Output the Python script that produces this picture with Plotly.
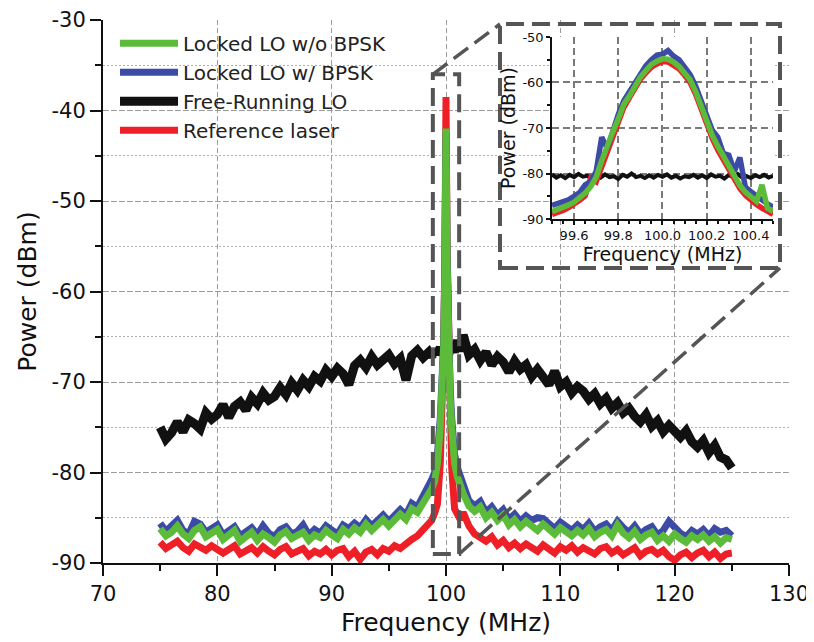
import plotly.graph_objects as go

FONT = "DejaVu Sans"
C_GREEN = "#5cbc3a"
C_BLUE = "#3b4ba6"
C_BLACK = "#111111"
C_RED = "#ee1f26"
C_FRAME = "#555555"

NAMES = ["Locked LO w/o BPSK", "Locked LO w/ BPSK", "Free-Running LO", "Reference laser"]

# ---------------- main spectrum (frequency in MHz, power in dBm) ----------------
FREQ_LEFT = [round(75.0 + 0.5 * i, 2) for i in range(48)]      # 75.0 ... 98.5
FREQ_PEAK = [98.75, 99.0, 99.25, 99.5, 99.65, 99.8, 99.9, 100.0,
             100.1, 100.2, 100.35, 100.5, 100.75, 101.0, 101.25]
FREQ_RIGHT = [round(101.5 + 0.5 * i, 2) for i in range(48)]    # 101.5 ... 125.0
FREQ_MAIN = FREQ_LEFT + FREQ_PEAK + FREQ_RIGHT

FREE_RUNNING = [
    -75.0, -76.3, -75.6, -74.4, -75.5, -74.2, -74.6, -75.2, -73.4, -74.1,
    -73.6, -72.5, -73.9, -72.7, -72.2, -73.1, -71.7, -72.4, -71.2, -72.0,
    -71.6, -70.6, -71.4, -70.1, -70.9, -69.8, -70.5, -69.4, -69.9, -68.7,
    -69.4, -68.5, -69.1, -70.3, -68.2, -67.6, -68.4, -67.2, -68.1, -67.6,
    -67.0, -68.0, -67.4, -69.8, -67.1, -66.5, -67.3, -66.7,
    -67.2, -66.4, -66.9, -66.2, -67.0, -66.6, -66.0, -66.8, -66.3, -67.1,
    -66.5, -65.8, -66.7, -65.4, -66.6,
    -64.8, -67.0, -66.4, -67.6, -66.7, -68.1, -67.2, -67.8, -68.9, -67.7,
    -68.6, -68.1, -69.4, -68.6, -69.6, -70.3, -68.8, -70.5, -70.0, -71.2,
    -70.5, -71.0, -71.9, -71.3, -72.4, -71.8, -72.9, -72.3, -73.4, -72.9,
    -73.8, -74.4, -73.6, -74.9, -74.3, -75.5, -74.8, -75.6, -76.1, -75.4,
    -76.6, -77.2, -76.5, -77.8, -77.0, -78.3, -78.6, -79.5,
]

REFERENCE = [
    -87.7, -88.4, -88.0, -87.6, -88.3, -88.7, -87.9, -88.2, -88.6, -88.1,
    -88.4, -88.9, -88.5, -88.1, -89.0, -88.6, -88.3, -88.9, -88.2, -88.7,
    -89.1, -88.5, -88.2, -89.0, -88.6, -88.4, -89.2, -88.7, -89.0, -88.5,
    -89.1, -88.6, -88.4, -89.3, -88.7, -89.6, -88.8, -88.5, -89.1, -88.4,
    -88.7, -88.1, -88.4, -87.8, -87.4, -87.0, -86.3, -85.8,
    -85.3, -84.5, -83.5, -79.0, -73.0, -66.0, -56.5, -38.5, -55.5, -64.0,
    -72.0, -79.5, -84.0, -84.8, -85.2,
    -84.4, -85.9, -86.8, -87.2, -87.6, -87.1, -88.0, -87.5, -88.3, -87.8,
    -88.4, -87.9, -88.2, -88.7, -88.0, -88.5, -88.9, -88.2, -88.6, -88.1,
    -88.8, -88.3, -88.7, -89.0, -88.4, -88.2, -88.9, -88.5, -89.1, -88.6,
    -88.3, -89.2, -88.7, -88.5, -89.0, -88.6, -89.3, -89.7, -89.1, -88.8,
    -89.4, -88.9, -88.6, -89.3, -88.8, -89.5, -89.0, -88.9,
]

LOCKED_BPSK = [
    -85.6, -86.5, -85.9, -85.3, -86.4, -86.8, -85.4, -85.7, -86.6, -86.2,
    -85.8, -86.9, -86.4, -86.0, -87.0, -86.5, -86.1, -86.9, -85.9, -86.7,
    -87.1, -86.3, -86.0, -86.8, -86.5, -85.8, -86.9, -86.3, -86.7, -85.9,
    -86.4, -86.8, -85.8, -86.2, -85.6, -86.1, -85.2, -85.9, -85.3, -84.7,
    -85.4, -84.6, -84.1, -84.7, -83.4, -83.8, -82.6, -81.8,
    -80.8, -80.0, -78.0, -74.0, -71.0, -65.5, -57.5, -42.5, -56.5, -64.0,
    -70.5, -74.0, -78.0, -79.5, -80.5,
    -81.6, -83.1, -83.7, -83.2, -84.4, -83.8, -84.7, -84.1, -85.2, -84.6,
    -85.4, -84.8, -85.3, -85.0, -85.1, -85.7, -86.2, -85.5, -86.0, -86.4,
    -85.8, -86.3, -85.6, -86.5, -86.0, -85.7, -86.4, -85.4, -86.1, -86.6,
    -85.9, -86.8, -86.3, -86.0, -86.9, -86.4, -85.4, -86.2, -86.7, -87.1,
    -86.4, -86.8, -86.3, -87.0, -86.2, -86.6, -86.4, -87.0,
]

LOCKED_NO_BPSK = [
    -86.2, -87.0, -86.6, -85.9, -86.8, -87.3, -86.4, -86.0, -87.1, -86.7,
    -86.3, -87.4, -86.9, -86.4, -87.6, -87.0, -86.6, -87.5, -86.8, -87.2,
    -87.7, -86.9, -86.5, -87.3, -87.0, -86.6, -87.5, -86.9, -87.2, -86.4,
    -86.9, -87.3, -86.3, -86.8, -86.1, -86.6, -85.7, -86.4, -85.8, -85.2,
    -85.9, -85.1, -84.6, -85.2, -84.0, -84.4, -83.3, -82.5,
    -81.8, -81.0, -79.0, -75.0, -72.0, -66.0, -58.0, -42.0, -57.0, -64.5,
    -71.5, -75.0, -79.0, -80.5, -81.5,
    -82.3, -83.7, -84.3, -83.8, -85.0, -84.4, -85.3, -84.7, -85.8, -85.2,
    -86.0, -85.4, -85.9, -86.4, -85.7, -86.3, -86.8, -86.1, -86.6, -87.0,
    -86.4, -86.9, -86.2, -87.1, -86.6, -86.3, -87.0, -85.8, -86.7, -87.2,
    -86.5, -87.4, -86.9, -86.6, -87.5, -87.0, -87.6, -86.8, -87.3, -87.7,
    -87.0, -87.4, -86.9, -87.6, -87.1, -87.8, -87.2, -87.4,
]

# ---------------- inset (zoom on the beat note) ----------------
INSET_FREE_RUNNING = [
    -80.2, -80.9, -80.4, -81.0, -80.3, -80.8, -80.1, -80.7, -80.5, -81.1,
    -80.4, -80.9, -80.2, -80.8, -80.6, -81.2, -80.3, -80.7, -80.0, -80.8,
    -80.5, -81.0, -80.4, -80.9, -80.3, -80.7, -80.2, -80.9, -80.5, -81.1,
    -80.6, -80.8, -80.3, -80.9, -80.4, -81.0, -80.2, -80.7, -80.5, -81.1,
    -80.3, -80.8, -80.1, -80.9, -80.6, -81.0, -80.4, -80.8, -80.3, -80.9,
    -80.5,
]
INSET_FREQ_FR = [round(99.5 + 0.02 * i, 3) for i in range(len(INSET_FREE_RUNNING))]

INSET_REFERENCE = [
    -89.0, -88.7, -88.1, -87.5, -86.8, -85.9, -84.9, -81.0, -81.8, -78.4,
    -75.0, -71.5, -68.5, -65.5, -63.4, -61.2, -59.3, -57.9, -56.6, -55.9,
    -55.4, -55.5, -56.1, -57.0, -58.4, -60.0, -62.6, -65.9, -69.2, -72.3,
    -74.8, -77.0, -79.4, -81.4, -83.3, -84.8, -85.9, -86.8, -87.6, -88.3,
    -89.0,
]
INSET_BPSK = [
    -87.0, -86.7, -86.2, -85.8, -85.0, -84.2, -82.5, -81.8, -79.5, -72.0,
    -74.5, -70.2, -67.0, -64.0, -62.0, -59.8, -57.9, -56.3, -55.0, -54.0,
    -53.8, -53.0, -54.2, -55.0, -56.6, -58.3, -60.8, -64.0, -67.5, -70.5,
    -72.0, -75.6, -76.0, -79.5, -76.5, -83.0, -84.0, -85.0, -86.0, -86.7,
    -87.4,
]
INSET_NO_BPSK = [
    -88.4, -88.0, -87.4, -86.9, -86.3, -85.4, -84.3, -82.9, -80.8, -77.2,
    -74.4, -70.9, -68.0, -64.8, -63.0, -60.6, -58.8, -57.4, -56.0, -55.3,
    -54.8, -54.9, -55.5, -56.5, -57.8, -59.4, -62.0, -65.3, -68.6, -71.6,
    -74.0, -76.3, -78.6, -80.7, -82.6, -84.1, -85.2, -86.1, -82.5, -87.6,
    -88.3,
]
INSET_FREQ = [round(99.5 + 0.025 * i, 3) for i in range(len(INSET_NO_BPSK))]

# axis definitions
X_RANGE = [70, 130]
Y_RANGE = [-90, -30]
X_TICKS = [70, 80, 90, 100, 110, 120, 130]
Y_TICKS = [-90, -80, -70, -60, -50, -40, -30]
IX_RANGE = [99.5, 100.5]
IY_RANGE = [-90, -50]
IX_TICKS = [99.6, 99.8, 100.0, 100.2, 100.4]
IY_TICKS = [-90, -80, -70, -60, -50]

# zoom marker (data coords of main plot) and inset frame (paper coords)
ZOOM_BOX = (98.85, 101.15, -89.0, -36.0)
INSET_FRAME = (0.5787, 0.9869, 0.5433, 0.9926)
INSET_DOMAIN_X = [0.6545, 0.9767]
INSET_DOMAIN_Y = [0.6335, 0.9687]


def px(v):
    return (v - X_RANGE[0]) / (X_RANGE[1] - X_RANGE[0])


def py(v):
    return (v - Y_RANGE[0]) / (Y_RANGE[1] - Y_RANGE[0])


fig = go.Figure()

main = [
    (NAMES[2], FREE_RUNNING, C_BLACK, 9, 3),
    (NAMES[3], REFERENCE, C_RED, 7, 4),
    (NAMES[1], LOCKED_BPSK, C_BLUE, 7, 2),
    (NAMES[0], LOCKED_NO_BPSK, C_GREEN, 7, 1),
]
for name, vals, col, w, rank in main:
    fig.add_trace(go.Scatter(x=FREQ_MAIN, y=vals, mode="lines", name=name,
                             line=dict(color=col, width=w), legendrank=rank,
                             xaxis="x", yaxis="y"))

fig.add_trace(go.Scatter(x=INSET_FREQ_FR, y=INSET_FREE_RUNNING, mode="lines",
                         line=dict(color=C_BLACK, width=4), showlegend=False,
                         xaxis="x2", yaxis="y2"))
for vals, col in [(INSET_REFERENCE, C_RED), (INSET_BPSK, C_BLUE), (INSET_NO_BPSK, C_GREEN)]:
    fig.add_trace(go.Scatter(x=INSET_FREQ, y=vals, mode="lines",
                             line=dict(color=col, width=5.5), showlegend=False,
                             xaxis="x2", yaxis="y2"))

tickfont = dict(family=FONT, size=21, color="#111")
grid_major = dict(showgrid=True, gridcolor="#9a9a9a", gridwidth=1, griddash="5px,3px")

# the page body adds an 8px margin, so the figure is 8px smaller than the window
fig.update_layout(
    width=806, height=634,
    margin=dict(l=95, r=25, t=12, b=79, autoexpand=False),
    paper_bgcolor="white", plot_bgcolor="white",
    font=dict(family=FONT, color="#111"),
    xaxis=dict(range=X_RANGE, tickvals=X_TICKS, ticktext=[str(v) for v in X_TICKS],
               automargin=False,
               ticks="outside", ticklen=11, tickwidth=2, tickcolor="#111",
               showline=True, linewidth=2, linecolor="#111", zeroline=False,
               tickfont=tickfont,
               minor=dict(dtick=5, tick0=70, ticks="outside", ticklen=6, tickwidth=2,
                          tickcolor="#111", showgrid=False),
               title=dict(text="Frequency (MHz)", font=dict(family=FONT, size=25, color="#111"),
                          standoff=8),
               **grid_major),
    yaxis=dict(range=Y_RANGE, tickvals=Y_TICKS, ticktext=[str(v) for v in Y_TICKS],
               automargin=False,
               ticks="outside", ticklen=11, tickwidth=2, tickcolor="#111",
               showline=True, linewidth=2, linecolor="#111", zeroline=False,
               tickfont=tickfont,
               minor=dict(dtick=5, tick0=-90, ticks="outside", ticklen=6, tickwidth=2,
                          tickcolor="#111", showgrid=True, gridcolor="#b0b0b0",
                          griddash="2px,2px", gridwidth=1),
               title=dict(text="Power (dBm)", font=dict(family=FONT, size=25, color="#111"),
                          standoff=8),
               **grid_major),
    xaxis3=dict(overlaying="x", side="top", anchor="y", range=X_RANGE, tickvals=X_TICKS,
                automargin=False,
                showticklabels=False, ticks="inside", ticklen=10, tickwidth=2,
                tickcolor="#111", showline=True, linewidth=2, linecolor="#111",
                showgrid=False, zeroline=False,
                minor=dict(dtick=5, tick0=70, ticks="inside", ticklen=5, tickwidth=2,
                           tickcolor="#111")),
    yaxis3=dict(overlaying="y", side="right", anchor="x", range=Y_RANGE, tickvals=Y_TICKS,
                automargin=False,
                showticklabels=False, ticks="inside", ticklen=10, tickwidth=2,
                tickcolor="#111", showline=True, linewidth=2, linecolor="#111",
                showgrid=False, zeroline=False,
                minor=dict(dtick=5, tick0=-90, ticks="inside", ticklen=6, tickwidth=2,
                           tickcolor="#111")),
    xaxis2=dict(domain=INSET_DOMAIN_X, anchor="y2", range=IX_RANGE, tickvals=IX_TICKS,
                ticktext=["%.1f" % v for v in IX_TICKS], automargin=False,
                ticks="outside", ticklen=4, tickwidth=1.5, tickcolor="#111",
                showline=True, linewidth=1.5, linecolor="#111", zeroline=False,
                tickfont=dict(family=FONT, size=13, color="#111"),
                minor=dict(dtick=0.05, tick0=99.5, ticks="outside", ticklen=3,
                           tickwidth=1.5, tickcolor="#111"),
                showgrid=True, gridcolor="#7a7a7a", gridwidth=2, griddash="7px,4px",
                title=dict(text="Frequency (MHz)", font=dict(family=FONT, size=19, color="#111"),
                           standoff=2)),
    yaxis2=dict(domain=INSET_DOMAIN_Y, anchor="x2", range=IY_RANGE, tickvals=IY_TICKS,
                ticktext=[str(v) for v in IY_TICKS], automargin=False,
                ticks="outside", ticklen=4, tickwidth=1.5, tickcolor="#111",
                showline=True, linewidth=1.5, linecolor="#111", zeroline=False,
                tickfont=dict(family=FONT, size=13, color="#111"),
                minor=dict(dtick=5, tick0=-90, ticks="outside", ticklen=3,
                           tickwidth=1.5, tickcolor="#111"),
                showgrid=True, gridcolor="#7a7a7a", gridwidth=2, griddash="7px,4px",
                title=dict(text="Power (dBm)", font=dict(family=FONT, size=19, color="#111"),
                           standoff=2)),
    legend=dict(x=0.0175, y=0.993, xanchor="left", yanchor="top", bgcolor="rgba(0,0,0,0)",
                font=dict(family=FONT, size=20, color="#222"), itemwidth=58,
                tracegroupgap=0),
    showlegend=True,
)

dash = "18px,8px"
x0, x1, y0, y1 = ZOOM_BOX
fig.add_shape(type="rect", xref="x", yref="y", x0=x0, x1=x1, y0=y0, y1=y1,
              line=dict(color=C_FRAME, width=4, dash=dash), layer="above")
fx0, fx1, fy0, fy1 = INSET_FRAME
fig.add_shape(type="rect", xref="paper", yref="paper", x0=fx0, x1=fx1, y0=fy0, y1=fy1,
              line=dict(color=C_FRAME, width=4, dash=dash), layer="above")
fig.add_shape(type="line", xref="paper", yref="paper", x0=px(x0), y0=py(y1), x1=fx0, y1=fy1,
              line=dict(color=C_FRAME, width=3.5, dash=dash), layer="above")
fig.add_shape(type="line", xref="paper", yref="paper", x0=px(x1), y0=py(y0), x1=fx1, y1=fy0,
              line=dict(color=C_FRAME, width=3.5, dash=dash), layer="above")

fig.write_html("out.html")
